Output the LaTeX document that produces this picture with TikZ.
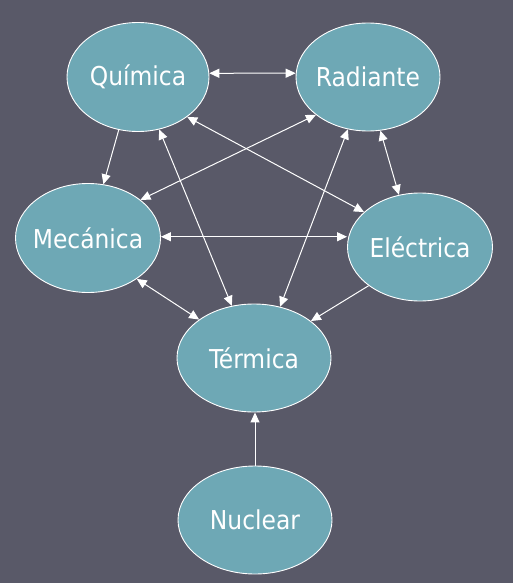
\documentclass[tikz,border=0pt]{standalone}
\usepackage{fontspec}
\setmainfont{DejaVu Sans Condensed}
\usetikzlibrary{shapes.geometric,arrows.meta}
\definecolor{bgc}{RGB}{89,89,104}
\definecolor{fillc}{RGB}{110,168,181}
\tikzset{
  energy/.style={ellipse, draw=white, line width=0.9pt, fill=fillc, inner xsep=-12pt, inner ysep=0pt,
    text=white, font=\fontsize{26}{31}\selectfont},
  link/.style={draw=white, line width=1pt, -{Triangle[length=10pt,width=9pt]}},
  blink/.style={draw=white, line width=1pt, {Triangle[length=10pt,width=9pt]}-{Triangle[length=10pt,width=9pt]}}
}
\begin{document}
\begin{tikzpicture}[x=1pt,y=-1pt]
\fill[bgc] (0,0) rectangle (513,583);
\useasboundingbox (0,0) rectangle (513,583);
\node[energy, minimum width=142pt, minimum height=109pt] (Q) at (138,77) {Química};
\node[energy, minimum width=144pt, minimum height=108pt] (R) at (368,77) {Radiante};
\node[energy, minimum width=145pt, minimum height=109pt] (M) at (88,238) {Mecánica};
\node[energy, minimum width=145pt, minimum height=108pt] (E) at (420,247) {Eléctrica};
\node[energy, minimum width=154pt, minimum height=108pt] (T) at (254,358) {Térmica};
\node[energy, minimum width=154pt, minimum height=108pt] (N) at (255,520) {Nuclear};
\draw[blink] (Q.3) -- (R.177);
\draw[link] (Q.-110) -- (M.74);
\draw[blink] (Q.-68) -- (T.113);
\draw[blink] (Q.-39) -- (E.148);
\draw[blink] (R.-144) -- (M.36);
\draw[blink] (R.-77) -- (E.112);
\draw[blink] (R.-111) -- (T.63);
\draw[blink] (M.1) -- (M.1 -| E.west);
\draw[blink] (M.-40) -- (T.145);
\draw[link] (E.-143) -- (T.33);
\draw[link] (N.north) -- (N.north |- T.south);
\end{tikzpicture}
\end{document}
